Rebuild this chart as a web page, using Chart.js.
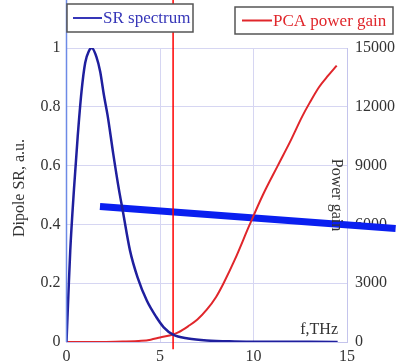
<!DOCTYPE html>
<html>
<head>
<meta charset="utf-8">
<script src="https://cdn.jsdelivr.net/npm/chart.js@4.4.0/dist/chart.umd.min.js"></script>
<style>
  html, body { margin: 0; padding: 0; background: #fff; }
  #wrap { width: 396px; height: 363px; }
</style>
</head>
<body>
<div id="wrap"><canvas id="srChart" width="396" height="363"></canvas></div>
<script>
// SR spectrum (left axis, a.u.)
const srFreq = [0, 0.1, 0.2, 0.4, 0.6, 0.8, 1.0, 1.2, 1.35, 1.6, 1.8, 2.0, 2.2, 2.5, 2.8, 3.0, 3.4, 3.8, 4.3, 4.8, 5.2, 5.7, 6.5, 7.5, 9, 11, 13, 14.5];
const srValues = [0, 0.16, 0.31, 0.52, 0.7, 0.85, 0.95, 0.99, 1.0, 0.97, 0.92, 0.84, 0.77, 0.64, 0.52, 0.45, 0.31, 0.22, 0.14, 0.085, 0.05, 0.025, 0.012, 0.005, 0.002, 0.001, 0.0005, 0];

// PCA power gain (right axis)
const gainFreq = [0, 1, 2, 3, 4, 4.5, 5, 5.7, 6, 6.5, 7, 7.5, 8, 8.4, 9, 9.8, 10.5, 11.3, 12, 12.6, 13, 13.5, 14, 14.45];
const gainValues = [0, 0, 5, 20, 60, 120, 230, 380, 500, 800, 1150, 1650, 2300, 3000, 4200, 6000, 7500, 9000, 10300, 11500, 12200, 13000, 13600, 14100];

// marker lines
const cutFreq = [5.7, 5.7];
const cutValues = [-0.025, 1.17];
const fitFreq = [1.79, 17.6];
const fitValues = [0.461, 0.386];

const xTicks = [0, 5, 10, 15];
const leftTicks = [0, 0.2, 0.4, 0.6, 0.8, 1];
const rightTicks = [0, 3000, 6000, 9000, 12000, 15000];

const serif = "'Liberation Serif', 'Times New Roman', serif";
const toPts = (xs, ys) => xs.map((x, i) => ({ x: x, y: ys[i] }));

// extra labels, legend boxes and the long left axis line
const decorPlugin = {
  id: "decor",
  afterDraw(chart) {
    const c = chart.ctx;
    const a = chart.chartArea;
    c.save();
    c.strokeStyle = "#6d8ae6";
    c.lineWidth = 1.5;
    c.beginPath();
    c.moveTo(a.left, 0);
    c.lineTo(a.left, a.bottom);
    c.stroke();

    c.fillStyle = "#333";
    c.font = "16px " + serif;
    c.textAlign = "center";
    c.textBaseline = "middle";
    c.save();
    c.translate(20, 188);
    c.rotate(-Math.PI / 2);
    c.fillText("Dipole SR, a.u.", 0, 0);
    c.restore();

    c.save();
    c.translate(336, 195);
    c.rotate(Math.PI / 2);
    c.fillText("Power gain", 0, 0);
    c.restore();

    c.textAlign = "right";
    c.textBaseline = "alphabetic";
    c.fillText("f,THz", 338, 334);

    // legend boxes
    const box = (x, y, w, h, color, label, lx0, lx1) => {
      c.fillStyle = "#fff";
      c.fillRect(x, y, w, h);
      c.strokeStyle = "#555";
      c.lineWidth = 1.5;
      c.strokeRect(x, y, w, h);
      c.strokeStyle = color;
      c.lineWidth = 2;
      c.beginPath();
      c.moveTo(lx0, y + h / 2);
      c.lineTo(lx1, y + h / 2);
      c.stroke();
      c.fillStyle = color;
      c.font = "17px " + serif;
      c.textAlign = "left";
      c.textBaseline = "middle";
      c.fillText(label, lx1 + 1, y + h / 2 + 1);
    };
    box(67, 4, 126, 28, "#3636b8", "SR spectrum", 73, 102);
    box(235, 7, 158, 27, "#e0262b", "PCA power gain", 242, 272);
    c.restore();
  }
};

function drawChart() {
  new Chart(document.getElementById("srChart"), {
    type: "scatter",
    data: {
      datasets: [
        {
          label: "SR spectrum",
          data: toPts(srFreq, srValues),
          yAxisID: "y",
          showLine: true,
          borderColor: "#1f1f9e",
          borderWidth: 2.5,
          pointRadius: 0,
          cubicInterpolationMode: "monotone"
        },
        {
          label: "PCA power gain",
          data: toPts(gainFreq, gainValues),
          yAxisID: "y2",
          showLine: true,
          borderColor: "#e0262b",
          borderWidth: 2,
          pointRadius: 0,
          cubicInterpolationMode: "monotone"
        },
        {
          label: "cut",
          data: toPts(cutFreq, cutValues),
          yAxisID: "y",
          showLine: true,
          borderColor: "#ff0000",
          borderWidth: 1.5,
          pointRadius: 0,
          clip: false
        },
        {
          label: "fit",
          data: toPts(fitFreq, fitValues),
          yAxisID: "y",
          showLine: true,
          borderColor: "#0a1ff0",
          borderWidth: 7,
          pointRadius: 0,
          clip: false
        }
      ]
    },
    options: {
      responsive: false,
      animation: false,
      layout: { padding: { top: 48, left: 0, right: 0, bottom: 0 } },
      plugins: { legend: { display: false }, tooltip: { enabled: false } },
      scales: {
        x: {
          type: "linear",
          min: 0,
          max: 15,
          afterBuildTicks: s => { s.ticks = xTicks.map(v => ({ value: v })); },
          afterFit: s => { s.height = 21; },
          grid: { color: "#d6d6f2", drawTicks: false },
          border: { color: "#c4c4ec" },
          ticks: { padding: 5, color: "#333", font: { family: serif, size: 16 } }
        },
        y: {
          position: "left",
          min: 0,
          max: 1,
          afterBuildTicks: s => { s.ticks = leftTicks.map(v => ({ value: v })); },
          afterFit: s => { s.width = 66.5; },
          grid: { color: "#d6d6f2", drawTicks: false },
          border: { display: false },
          ticks: { padding: 6, color: "#333", font: { family: serif, size: 16 }, callback: v => String(v) }
        },
        y2: {
          position: "right",
          min: 0,
          max: 15000,
          afterBuildTicks: s => { s.ticks = rightTicks.map(v => ({ value: v })); },
          afterFit: s => { s.width = 49; },
          grid: { display: false, drawTicks: false },
          border: { color: "#c4c4ec" },
          ticks: { padding: 8, color: "#333", font: { family: serif, size: 16 }, callback: v => String(v) }
        }
      }
    },
    plugins: [decorPlugin]
  });
}

document.fonts.load("16px 'Liberation Serif'").then(drawChart, drawChart);
</script>
</body>
</html>
